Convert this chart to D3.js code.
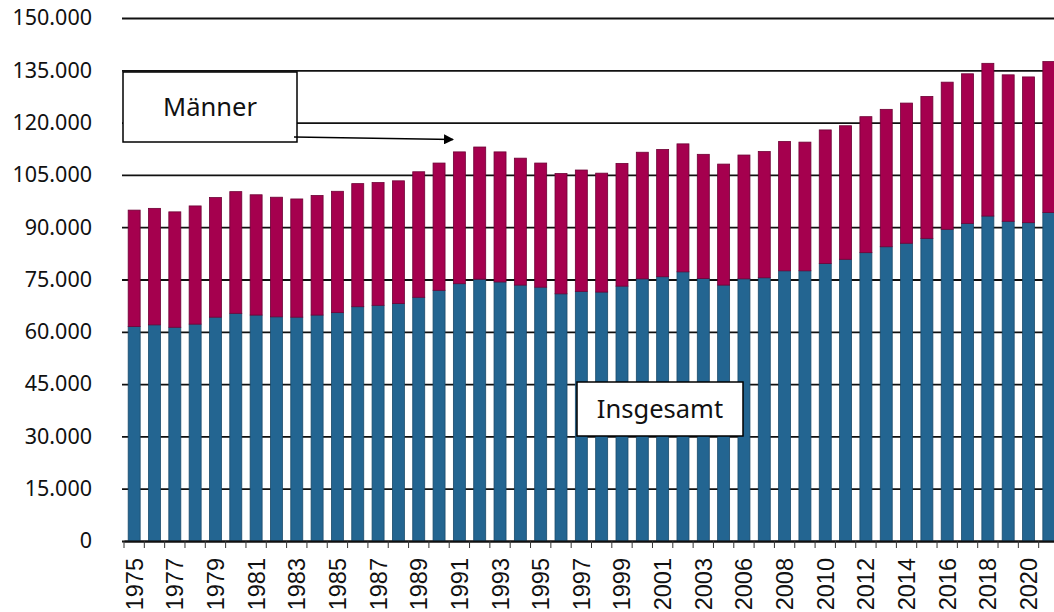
<!DOCTYPE html>
<html>
<head>
<meta charset="utf-8">
<script src="https://cdn.jsdelivr.net/npm/d3@7"></script>
<style>
  html, body { margin: 0; padding: 0; background: #fff; overflow: hidden; }
  .chart svg { display: block; }
</style>
</head>
<body>
<div class="chart"></div>
<script>
// Jahre (2005 fehlt in der Reihe)
const jahre = ['1975','1976','1977','1978','1979','1980','1981','1982','1983','1984',
  '1985','1986','1987','1988','1989','1990','1991','1992','1993','1994',
  '1995','1996','1997','1998','1999','2000','2001','2002','2003','2004',
  '2006','2007','2008','2009','2010','2011','2012','2013','2014','2015',
  '2016','2017','2018','2019','2020','2021'];

// blauer Sockel ("Insgesamt")
const insgesamt = [61500, 62000, 61300, 62200, 64200, 65300, 64800, 64300, 64200, 64800,
  65500, 67200, 67600, 68100, 69900, 71900, 73800, 75100, 74300, 73400,
  72800, 70900, 71600, 71400, 73100, 75200, 75800, 77200, 75300, 73400,
  75200, 75500, 77500, 77500, 79600, 80800, 82700, 84400, 85400, 86800,
  89400, 91100, 93200, 91700, 91300, 94200];

// Gesamthöhe der Säule (Oberkante "Männer")
const gesamt = [94900, 95400, 94400, 96100, 98500, 100200, 99300, 98600, 98100, 99100,
  100300, 102500, 102800, 103300, 105900, 108400, 111600, 113000, 111600, 109800,
  108400, 105400, 106400, 105500, 108300, 111500, 112300, 113900, 110900, 108100,
  110700, 111700, 114600, 114400, 117900, 119100, 121700, 123800, 125600, 127500,
  131600, 134000, 137000, 133700, 133100, 137500];

const yTicks = [0, 15000, 30000, 45000, 60000, 75000, 90000, 105000, 120000, 135000, 150000];

const width = 1054,
  height = 612,
  axisY = 541,
  topY = 18,
  left = 124,
  right = 1059;

const de = d3.formatLocale({ decimal: ',', thousands: '.', grouping: [3], currency: ['', ' €'] });
const fmt = de.format(',');

const svg = d3.select('.chart')
  .append('svg')
  .attr('width', width)
  .attr('height', height);

const x = d3.scaleBand()
  .domain(jahre)
  .range([left, right])
  .paddingInner(0.41)
  .paddingOuter(0.205);

const y = d3.scaleLinear()
  .domain([0, 150000])
  .range([axisY, topY]);

// Gitterlinien + Beschriftung links
const yAxis = svg.append('g')
  .attr('transform', `translate(${left}, 0)`)
  .call(d3.axisLeft(y).tickValues(yTicks).tickFormat(fmt).tickSize(0).tickPadding(32));
yAxis.select('.domain').remove();
yAxis.selectAll('.tick line')
  .attr('x1', -2)
  .attr('x2', width - left)
  .attr('stroke', '#111')
  .attr('stroke-width', 1.8);
yAxis.selectAll('.tick text')
  .attr('font-family', '"Noto Sans", "Open Sans", sans-serif')
  .attr('font-size', 21.5)
  .attr('fill', '#111');

// Säulen
const bars = svg.append('g');
const bw = x.bandwidth();

bars.selectAll('rect.blau')
  .data(jahre)
  .enter()
  .append('rect')
  .attr('class', 'blau')
  .attr('x', d => x(d))
  .attr('width', bw)
  .attr('y', (d, i) => y(insgesamt[i]))
  .attr('height', (d, i) => axisY - y(insgesamt[i]))
  .attr('fill', '#236591')
  .attr('stroke', '#1b4b6b')
  .attr('stroke-width', 0.8);

bars.selectAll('rect.rot')
  .data(jahre)
  .enter()
  .append('rect')
  .attr('class', 'rot')
  .attr('x', d => x(d))
  .attr('width', bw)
  .attr('y', (d, i) => y(gesamt[i]))
  .attr('height', (d, i) => y(insgesamt[i]) - y(gesamt[i]))
  .attr('fill', '#a5004e')
  .attr('stroke', '#6e0035')
  .attr('stroke-width', 0.8);

// x-Achse
const half = x.step() * x.paddingInner() / 2;
const xAxis = svg.append('g')
  .attr('transform', `translate(0, ${axisY})`)
  .call(d3.axisBottom(x).tickSize(0).tickFormat((d, i) => i % 2 === 0 ? d : ''));
xAxis.select('.domain')
  .attr('stroke', '#111')
  .attr('stroke-width', 2);
xAxis.selectAll('.tick text')
  .attr('transform', 'rotate(-90)')
  .attr('text-anchor', 'end')
  .attr('x', -17)
  .attr('y', 0)
  .attr('dy', '0.36em')
  .attr('font-family', '"Liberation Sans", Arial, sans-serif')
  .attr('font-size', 23.5)
  .attr('fill', '#111');

svg.append('g')
  .selectAll('line')
  .data(jahre)
  .enter()
  .append('line')
  .attr('x1', d => x(d) - half)
  .attr('x2', d => x(d) - half)
  .attr('y1', axisY)
  .attr('y2', axisY + 7)
  .attr('stroke', '#333')
  .attr('stroke-width', 1);

// Beschriftungen
svg.append('defs').append('marker')
  .attr('id', 'pfeil')
  .attr('viewBox', '0 0 10 10')
  .attr('refX', 9)
  .attr('refY', 5)
  .attr('markerWidth', 10)
  .attr('markerHeight', 10)
  .attr('markerUnits', 'userSpaceOnUse')
  .attr('orient', 'auto')
  .append('path')
  .attr('d', 'M0,0 L10,5 L0,10 Z')
  .attr('fill', '#000');

const boxes = [
  { text: 'Männer', x: 123, y: 72, w: 174, h: 70 },
  { text: 'Insgesamt', x: 577, y: 382, w: 166, h: 54 }
];

const box = svg.append('g')
  .selectAll('g')
  .data(boxes)
  .enter()
  .append('g');

box.append('rect')
  .attr('x', d => d.x)
  .attr('y', d => d.y)
  .attr('width', d => d.w)
  .attr('height', d => d.h)
  .attr('fill', '#fff')
  .attr('stroke', '#000')
  .attr('stroke-width', 1.5);

box.append('text')
  .attr('x', d => d.x + d.w / 2)
  .attr('y', d => d.y + d.h / 2)
  .attr('dy', '0.35em')
  .attr('text-anchor', 'middle')
  .attr('font-family', '"Noto Sans", "Open Sans", sans-serif')
  .attr('font-size', 25.5)
  .attr('fill', '#111')
  .text(d => d.text);

svg.append('line')
  .attr('x1', 294)
  .attr('y1', 137)
  .attr('x2', 453)
  .attr('y2', 139.5)
  .attr('stroke', '#000')
  .attr('stroke-width', 1.6)
  .attr('marker-end', 'url(#pfeil)');
</script>
</body>
</html>
